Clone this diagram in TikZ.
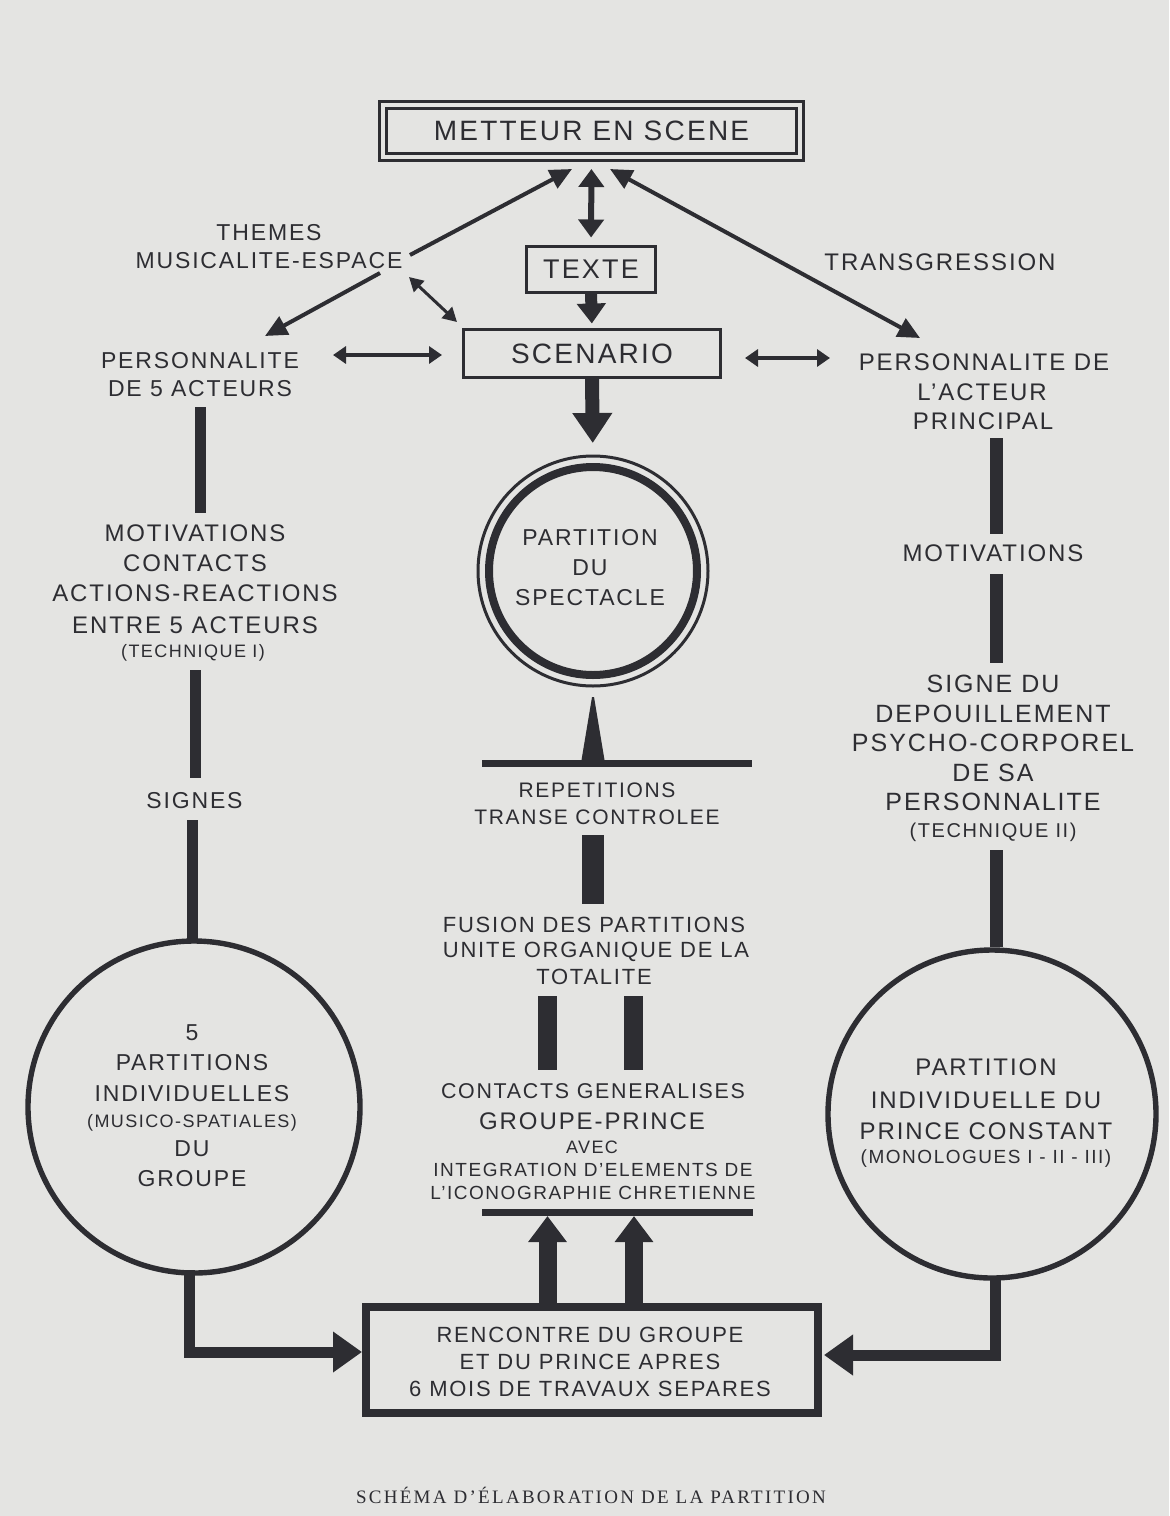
\documentclass[tikz,border=0pt]{standalone}
\usepackage{fontspec}
\setmainfont{Liberation Sans}[LetterSpace=8]
\newfontfamily\capfont{Liberation Serif}[LetterSpace=12]
\usetikzlibrary{arrows.meta}
\definecolor{paper}{RGB}{228,228,226}
\definecolor{ink}{RGB}{45,45,50}
\tikzset{
  lab/.style={text=ink, inner sep=0pt, outer sep=0pt, anchor=base},
  boxnode/.style={draw=ink, inner sep=0pt, outer sep=0pt, text=ink},
  ring/.style={draw=ink, circle, inner sep=0pt, outer sep=0pt},
  thinarr/.style={draw=ink, line width=2pt, -{Triangle[length=11pt,width=10pt]}},
  thindbl/.style={draw=ink, line width=2pt, {Triangle[length=11pt,width=10pt]}-{Triangle[length=11pt,width=10pt]}},
  smalldbl/.style={draw=ink, line width=1.5pt, {Triangle[length=7pt,width=7.5pt]}-{Triangle[length=7pt,width=7.5pt]}},
  hdbl/.style={draw=ink, line width=1.8pt, {Triangle[length=6.5pt,width=8.5pt]}-{Triangle[length=6.5pt,width=8.5pt]}},
  middbl/.style={draw=ink, line width=3pt, {Triangle[length=9pt,width=12.5pt]}-{Triangle[length=9pt,width=12.5pt]}},
  thickarr/.style={draw=ink, line width=6pt, -{Triangle[length=10pt,width=14pt]}},
  bigarr/.style={draw=ink, line width=7pt, -{Triangle[length=15pt,width=19pt]}},
  uparr/.style={draw=ink, line width=9pt, -{Triangle[length=13pt,width=18.5pt]}},
  elb/.style={draw=ink, line width=5.5pt, line join=miter, -{Triangle[length=14.5pt,width=19.5pt]}},
  barL/.style={draw=ink, line width=5.5pt},
  barR/.style={draw=ink, line width=6.5pt},
  rule/.style={draw=ink, line width=3.5pt},
}
\newcommand\Lt[5]{\node[lab, font=\fontsize{#4pt}{#4pt}\selectfont] (#1) at (#2,{#3+0.716*#4}) {#5};}
\begin{document}
\begin{tikzpicture}[x=0.5pt,y=-0.5pt]
\fill[paper] (0,0) rectangle (1169,1516);
\useasboundingbox (0,0) rectangle (1169,1516);

% boxes
\node[boxnode, double=paper, double distance=2pt, line width=1.5pt, minimum width=208.5pt, minimum height=26pt, font=\fontsize{14pt}{14pt}\selectfont] (mes) at (591.5,131) {METTEUR EN SCENE};
\node[boxnode, line width=1.5pt, minimum width=64.5pt, minimum height=23pt, font=\fontsize{13.5pt}{13.5pt}\selectfont] (texte) at (591,269.5) {TEXTE};
\node[boxnode, line width=1.5pt, minimum width=128.5pt, minimum height=24pt, font=\fontsize{14pt}{14pt}\selectfont] (scen) at (592,353.5) {SCENARIO};

% circles
\node[ring, line width=4pt, minimum size=104pt] (part) at (593,571) {};
\draw[ink, line width=1.5pt] (part.center) circle[radius=57.5pt];
\node[ring, line width=2.7pt, minimum size=166pt] (lcirc) at (194,1107) {};
\node[ring, line width=2.7pt, minimum size=164pt] (rcirc) at (992,1114) {};
\node[boxnode, line width=4pt, minimum width=226pt, minimum height=53pt] (renc) at (592,1360) {};

% texts
\Lt{th1}{269}{232}{11.5}{THEMES}
\Lt{th2}{269}{260}{11.5}{MUSICALITE-ESPACE}
\Lt{tr}{940}{262}{12}{TRANSGRESSION}
\Lt{p5a}{200}{360}{11.5}{PERSONNALITE}
\Lt{p5b}{200}{388}{11.5}{DE 5 ACTEURS}
\Lt{ppa}{984}{362}{12}{PERSONNALITE DE}
\Lt{ppb}{982}{392}{12}{L’ACTEUR}
\Lt{ppc}{983}{421}{12}{PRINCIPAL}

\Lt{m1}{195}{533}{12}{MOTIVATIONS}
\Lt{m2}{195}{563}{12}{CONTACTS}
\Lt{m3}{195}{593}{12}{ACTIONS-REACTIONS}
\Lt{m4}{195}{625}{12}{ENTRE 5 ACTEURS}
\Lt{m5}{193}{651}{9}{(TECHNIQUE I)}
\Lt{sg}{194.5}{800}{11.5}{SIGNES}

\Lt{mot}{993}{553}{12}{MOTIVATIONS}
\Lt{s1}{993}{684}{12.5}{SIGNE DU}
\Lt{s2}{993}{714}{12.5}{DEPOUILLEMENT}
\Lt{s3}{993}{743}{12.5}{PSYCHO-CORPOREL}
\Lt{s4}{993}{773}{12.5}{DE SA}
\Lt{s5}{993}{802}{12.5}{PERSONNALITE}
\Lt{s6}{993}{830}{10}{(TECHNIQUE II)}

\Lt{ps1}{590}{537}{11.5}{PARTITION}
\Lt{ps2}{590}{567}{11.5}{DU}
\Lt{ps3}{590}{597}{11.5}{SPECTACLE}

\Lt{r1}{597}{790}{10.5}{REPETITIONS}
\Lt{r2}{597}{817}{10.5}{TRANSE CONTROLEE}
\Lt{f1}{594}{925}{11}{FUSION DES PARTITIONS}
\Lt{f2}{596}{950}{11}{UNITE ORGANIQUE DE LA}
\Lt{f3}{594}{977}{11}{TOTALITE}

\Lt{c1}{593}{1091}{10.7}{CONTACTS GENERALISES}
\Lt{c2}{592}{1121}{12}{GROUPE-PRINCE}
\Lt{c3}{592}{1147}{9}{AVEC}
\Lt{c4}{593}{1170}{9.5}{INTEGRATION D’ELEMENTS DE}
\Lt{c5}{593}{1193}{9.5}{L’ICONOGRAPHIE CHRETIENNE}

\Lt{lc1}{192}{1032}{11.5}{5}
\Lt{lc2}{192}{1062}{11.5}{PARTITIONS}
\Lt{lc3}{192}{1093}{11.5}{INDIVIDUELLES}
\Lt{lc4}{192}{1121}{9}{(MUSICO-SPATIALES)}
\Lt{lc5}{192}{1148}{11.5}{DU}
\Lt{lc6}{192}{1178}{11.5}{GROUPE}

\Lt{rc1}{986}{1067}{12}{PARTITION}
\Lt{rc2}{986}{1100}{12}{INDIVIDUELLE DU}
\Lt{rc3}{986}{1131}{12}{PRINCE CONSTANT}
\Lt{rc4}{986}{1157}{9.5}{(MONOLOGUES I - II - III)}

\Lt{n1}{590}{1335}{11}{RENCONTRE DU GROUPE}
\Lt{n2}{590}{1362}{11}{ET DU PRINCE APRES}
\Lt{n3}{590}{1389}{11}{6 MOIS DE TRAVAUX SEPARES}

\node[lab, font=\capfont\fontsize{9.5pt}{9.5pt}\selectfont] (cap) at (591,1503) {SCHÉMA D’ÉLABORATION DE LA PARTITION};

% top connectors
\coordinate (thE) at (410,255);
\coordinate (mesL) at (572,169);
\coordinate (mesR) at (610,169);
\coordinate (ppT) at (920,338);
\coordinate (thS) at (380,273);
\coordinate (p5T) at (265,336);
\coordinate (thSE) at (409,277);
\coordinate (scNW) at (457,322);
\draw[thinarr] (thE) -- (mesL);
\draw[thindbl] (mesR) -- (ppT);
\draw[thinarr] (thS) -- (p5T);
\draw[smalldbl] (thSE) -- (scNW);
\draw[hdbl] (333,355) -- (442,355);
\draw[hdbl] (745,358) -- (830,358);
\draw[middbl, shorten <=6pt, shorten >=4.5pt] (mes.south) -- (texte.north);
\draw[thickarr, shorten >=3pt] (texte.south) -- (scen.north);
\draw[bigarr, shorten >=12pt] (scen.south) -- (part.north);

% left column bars
\draw[barL] (200,407) -- (200,513);
\draw[barL] (195,670) -- (195,778);
\draw[barL] (192,820) -- (192,943);
% right column bars
\draw[barR] (996,438) -- (996,534);
\draw[barR] (996,574) -- (996,663);
\draw[barR] (996,850) -- (996,947);

% centre column
\fill[ink] (581,763) -- (592,697) -- (594,697) -- (605,763) -- cycle;
\draw[rule] (482,763) -- (752,763);
\draw[draw=ink, line width=11pt] (593,835) -- (593,904);
\draw[draw=ink, line width=9.5pt] (547.5,996) -- (547.5,1070);
\draw[draw=ink, line width=9.5pt] (633.5,996) -- (633.5,1070);
\draw[rule] (482,1212) -- (753,1212);
\draw[uparr] (547.5,1303) -- (547.5,1216);
\draw[uparr] (634,1303) -- (634,1216);

% elbows into the meeting box
\draw[elb] (189,1270) |- (362,1352);
\draw[elb] (995,1276) |- (824,1355);
\end{tikzpicture}
\end{document}
